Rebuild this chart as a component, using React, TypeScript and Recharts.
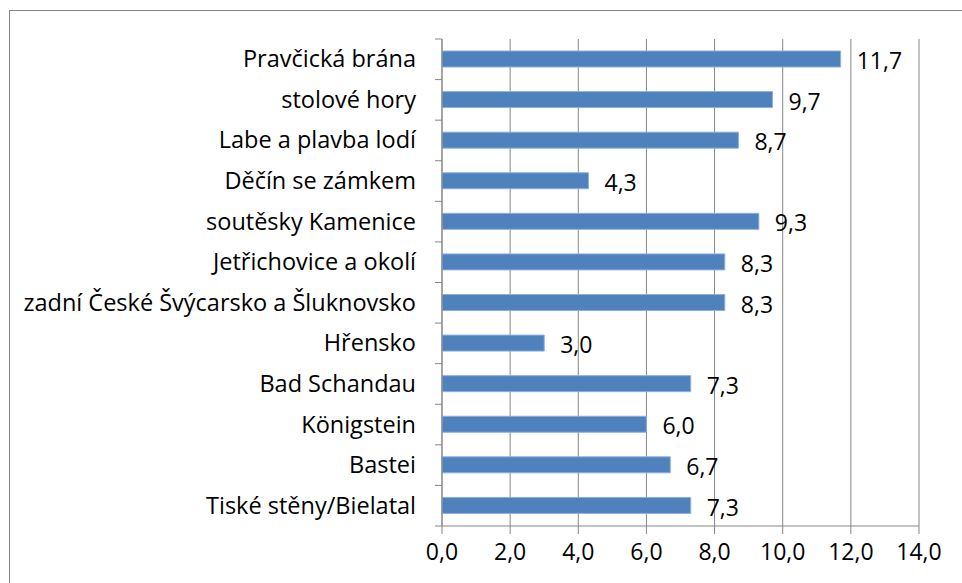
import React from "react"
import {
  BarChart,
  Bar,
  XAxis,
  YAxis,
  CartesianGrid,
  LabelList,
} from "recharts"

const places = [
  "Pravčická brána",
  "stolové hory",
  "Labe a plavba lodí",
  "Děčín se zámkem",
  "soutěsky Kamenice",
  "Jetřichovice a okolí",
  "zadní České Švýcarsko a Šluknovsko",
  "Hřensko",
  "Bad Schandau",
  "Königstein",
  "Bastei",
  "Tiské stěny/Bielatal",
]

const scores = [11.7, 9.7, 8.7, 4.3, 9.3, 8.3, 8.3, 3.0, 7.3, 6.0, 6.7, 7.3]

const xTicks = [0, 2, 4, 6, 8, 10, 12, 14]

const data = places.map((name, i) => ({ name, value: scores[i] }))

const FONT = "'Open Sans', 'Noto Sans', sans-serif"
const GRAY = "#868686"

const W = 962
const H = 583
const TOP = 39
const BOTTOM = 57
const PLOT_H = H - TOP - BOTTOM

const comma = (v: number) => v.toFixed(1).replace(".", ",")

function PlaceTick(props: any) {
  const { x, y, payload, index } = props
  const band = PLOT_H / places.length
  return (
    <g>
      <text
        x={x - 26}
        y={y}
        dy={8}
        textAnchor="end"
        fill="#000"
        fontSize={23.5}
        fontFamily={FONT}
      >
        {payload.value}
      </text>
      <line x1={x - 7} x2={x} y1={y - band / 2} y2={y - band / 2} stroke={GRAY} />
      {index === places.length - 1 && (
        <line x1={x - 7} x2={x} y1={y + band / 2} y2={y + band / 2} stroke={GRAY} />
      )}
    </g>
  )
}

export default function App() {
  return (
    <div
      style={{
        position: "absolute",
        left: 0,
        top: 0,
        width: W,
        height: H,
        background: "#fff",
        overflow: "hidden",
      }}
    >
      <div
        style={{
          position: "absolute",
          left: 9,
          top: 10,
          width: W,
          height: H,
          border: `1px solid ${GRAY}`,
        }}
      />
      <div style={{ position: "absolute", left: 0, top: 0 }}>
        <BarChart
          width={W}
          height={H}
          data={data}
          layout="vertical"
          margin={{ top: TOP, right: 43, bottom: 0, left: 0 }}
        >
          <CartesianGrid horizontal={false} stroke={GRAY} />
          <XAxis
            type="number"
            domain={[0, 14]}
            ticks={xTicks}
            tickFormatter={comma}
            height={BOTTOM}
            stroke={GRAY}
            tickSize={8}
            tickMargin={10}
            tick={{ fill: "#000", fontSize: 23, fontFamily: FONT }}
            interval={0}
          />
          <YAxis
            type="category"
            dataKey="name"
            width={442}
            stroke={GRAY}
            tickLine={false}
            tickSize={0}
            tickMargin={0}
            tick={<PlaceTick />}
            interval={0}
          />
          <Bar
            dataKey="value"
            fill="#4F81BD"
            stroke="#8DB0DD"
            strokeWidth={1}
            barSize={16}
            isAnimationActive={false}
          >
            <LabelList
              dataKey="value"
              position="right"
              offset={16}
              dy={2}
              formatter={(v: any) => comma(Number(v))}
              fill="#000"
              fontSize={23}
              fontFamily={FONT}
            />
          </Bar>
        </BarChart>
      </div>
    </div>
  )
}
